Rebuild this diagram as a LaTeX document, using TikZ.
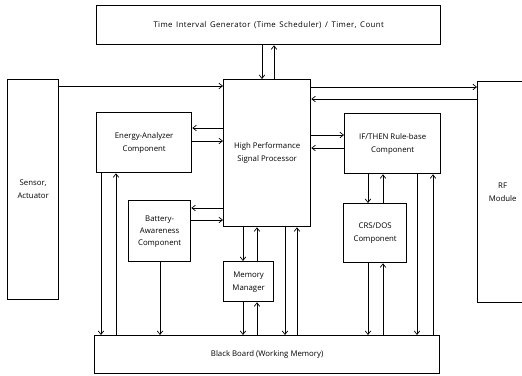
\documentclass[tikz,border=0pt]{standalone}
\usepackage{fontspec}
\setmainfont{Open Sans}
\newfontfamily\spacedfont[LetterSpace=5,WordSpace=1.5]{Open Sans}
\usetikzlibrary{arrows.meta}
\begin{document}
\begin{tikzpicture}[x=1pt,y=-1pt,
  box/.style={draw,line width=1.3pt,inner sep=0pt,anchor=north west,align=center,
    font=\fontsize{7.8}{13}\selectfont},
  arr/.style={-{Straight Barb[length=3.5pt,width=5.5pt]},line width=0.7pt}]
\useasboundingbox (0,0) rectangle (522,375);
% boxes
\node[box,minimum width=344pt,minimum height=39pt,font=\spacedfont\fontsize{7.8}{13}\selectfont] (tig) at (96,5) {Time Interval Generator (Time Scheduler) / Timer, Count};
\node[box,minimum width=51pt,minimum height=220pt] (sens) at (7,79) {Sensor,\\Actuator};
\node[box,minimum width=50pt,minimum height=221pt] (rf) at (477,81) {RF\\Module};
\node[box,minimum width=87pt,minimum height=147pt] (proc) at (223,79) {High Performance\\Signal Processor};
\node[box,minimum width=95pt,minimum height=60pt] (ea) at (96,112) {Energy-Analyzer\\Component};
\node[box,minimum width=62pt,minimum height=61pt,font=\fontsize{7.8}{12}\selectfont] (bat) at (128,200) {Battery-\\Awareness\\Component};
\node[box,minimum width=50pt,minimum height=40pt] (mm) at (223,261) {Memory\\Manager};
\node[box,minimum width=96pt,minimum height=60pt] (rule) at (344,113) {IF/THEN Rule-base\\Component};
\node[box,minimum width=63pt,minimum height=59pt] (crs) at (343,203) {CRS/DOS\\Component};
\node[box,minimum width=345pt,minimum height=38pt] (bb) at (94,335) {Black Board (Working Memory)};
% connectors
\draw[arr] (tig.south -| 262,0) -- (proc.north -| 262,0);
\draw[arr] (proc.north -| 274,0) -- (tig.south -| 274,0);
\draw[arr] (sens.east |- 0,86) -- (proc.west |- 0,86);
\draw[arr] (proc.east |- 0,87) -- (rf.west |- 0,87);
\draw[arr] (rf.west |- 0,99) -- (proc.east |- 0,99);
\draw[arr] (proc.west |- 0,128) -- (ea.east |- 0,128);
\draw[arr] (ea.east |- 0,141) -- (proc.west |- 0,141);
\draw[arr] (proc.east |- 0,135) -- (rule.west |- 0,135);
\draw[arr] (rule.west |- 0,148) -- (proc.east |- 0,148);
\draw[arr] (proc.west |- 0,208) -- (bat.east |- 0,208);
\draw[arr] (bat.east |- 0,220) -- (proc.west |- 0,220);
\draw[arr] (ea.south -| 101,0) -- (bb.north -| 101,0);
\draw[arr] (bb.north -| 116,0) -- (ea.south -| 116,0);
\draw[arr] (bat.south -| 160,0) -- (bb.north -| 160,0);
\draw[arr] (proc.south -| 243,0) -- (mm.north -| 243,0);
\draw[arr] (mm.north -| 257,0) -- (proc.south -| 257,0);
\draw[arr] (mm.south -| 243,0) -- (bb.north -| 243,0);
\draw[arr] (bb.north -| 257,0) -- (mm.south -| 257,0);
\draw[arr] (proc.south -| 285,0) -- (bb.north -| 285,0);
\draw[arr] (bb.north -| 297,0) -- (proc.south -| 297,0);
\draw[arr] (rule.south -| 368,0) -- (crs.north -| 368,0);
\draw[arr] (crs.north -| 383,0) -- (rule.south -| 383,0);
\draw[arr] (crs.south -| 368,0) -- (bb.north -| 368,0);
\draw[arr] (bb.north -| 383,0) -- (crs.south -| 383,0);
\draw[arr] (rule.south -| 417,0) -- (bb.north -| 417,0);
\draw[arr] (bb.north -| 433,0) -- (rule.south -| 433,0);
\end{tikzpicture}
\end{document}
